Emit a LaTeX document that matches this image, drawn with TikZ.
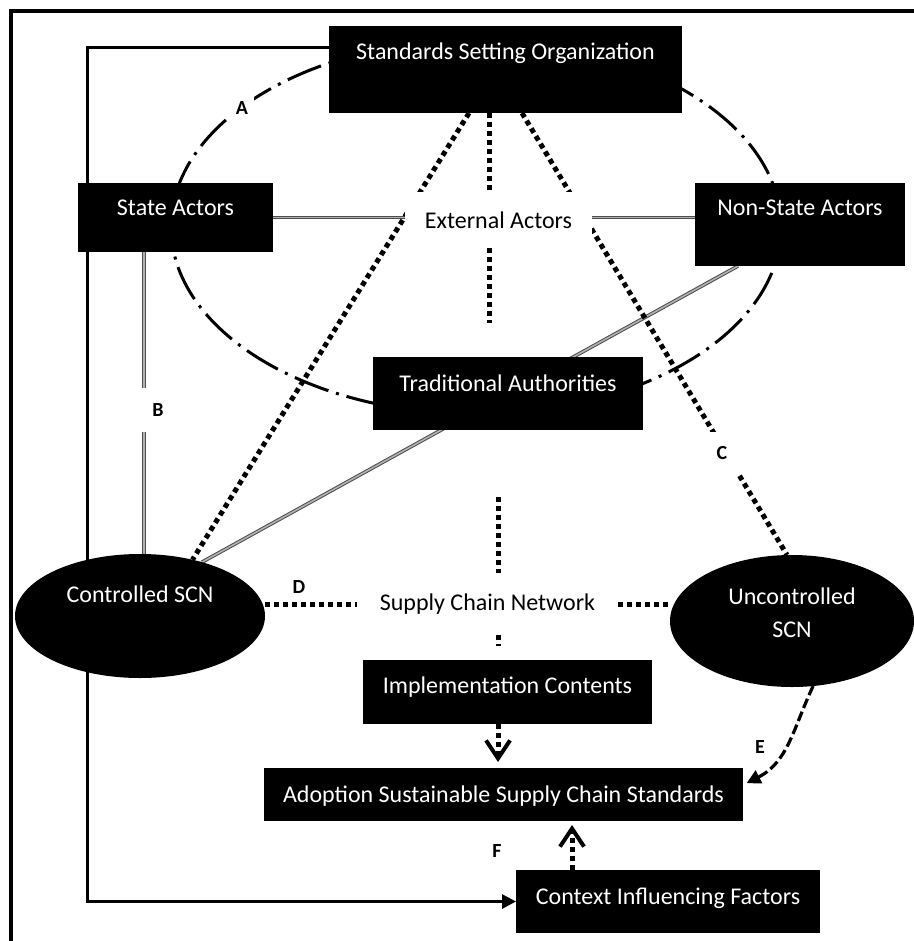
\documentclass[tikz,border=0pt]{standalone}
\usepackage{fontspec}
\setmainfont{Carlito}
\usetikzlibrary{arrows.meta,shapes.geometric,backgrounds}

\begin{document}
\begin{tikzpicture}[x=0.5pt,y=-0.5pt,font=\fontsize{12}{14.5}\selectfont,
	box/.style={fill=black,text=white,inner sep=0pt,outer sep=0pt,anchor=north west},
	oval/.style={ellipse,fill=black,text=white,inner sep=0pt,outer sep=0pt},
	gap/.style={fill=white,inner sep=0pt,outer sep=0pt},
	lbl/.style={fill=white,font=\bfseries,inner sep=3pt},
	dotline/.style={line width=2.5pt,dash pattern=on 2.5pt off 2pt},
	dbl/.style={draw=black!70,double=black!30,double distance=0.8pt,line width=0.5pt},
	dashdot/.style={line width=1.5pt,dash pattern=on 18pt off 4pt on 1.5pt off 4pt},
	dashline/.style={line width=1.6pt,dash pattern=on 5pt off 2pt},
	barb/.style={-{Straight Barb[length=9pt,width=12pt,line width=2pt]}}]
	\useasboundingbox (0,0) rectangle (914,941);

	\node [box,minimum width=176.5pt,text height=17pt,text depth=26.5pt] at (329,26) (sso) {Standards Setting Organization};
	\node [box,minimum width=97.5pt,text height=16pt,text depth=18.5pt] at (78,183) (state) {State Actors};
	\node [box,minimum width=105pt,text height=16pt,text depth=25.5pt] at (695,183) (nonstate) {Non-State Actors};
	\node [box,minimum width=135pt,text height=17pt,text depth=19.5pt] at (373,357) (trad) {Traditional Authorities};
	\node [box,minimum width=144.5pt,text height=16.5pt,text depth=15.5pt] at (363,660) (impl) {Implementation Contents};
	\node [box,minimum width=239.5pt,text height=17pt,text depth=9.5pt] at (264,768) (adopt) {Adoption Sustainable Supply Chain Standards};
	\node [box,minimum width=152pt,text height=17pt,text depth=14.5pt] at (516,870) (context) {Context Influencing Factors};

	\node [oval,minimum width=125pt,minimum height=62pt,text height=7.5pt,text depth=21.5pt] at (140,616) (ctrl) {Controlled SCN};
	\node [oval,minimum width=122pt,minimum height=66pt,align=center,text depth=8pt] at (792,621) (unctrl) {Uncontrolled\\[2pt]SCN};

	\node [gap,minimum width=93.5pt,minimum height=28pt] at (498.5,220) (ext) {External Actors};
	\node [gap,minimum width=130.5pt,minimum height=31pt] at (487.5,604) (scn) {Supply Chain Network};

	\node [lbl] at (242,108) (la) {A};
	\node [lbl,inner xsep=7pt,inner ysep=8pt] at (158,410) (lb) {B};
	\node [lbl,inner sep=7pt] at (722,453) (lc) {C};
	\node [font=\bfseries] at (299,587) (ld) {D};
	\node [font=\bfseries] at (760,747) (le) {E};
	\node [font=\bfseries] at (497,851) (lf) {F};

	\coordinate (corner) at (87,48);
	\coordinate (midup) at (489,0);
	\coordinate (midlow) at (498,0);
	\coordinate (ctxup) at (572,0);

	\begin{scope}[on background layer]
	\draw [line width=2pt] (11,941) -- (11,11) -- (914,11);
	\draw [line width=1.5pt,-{Triangle[length=7pt,width=7pt]}] ([yshift=10.75pt]sso.west) -- (corner) |- (context.west);
	\draw [dashdot] (476,227) ellipse [x radius=152.5pt,y radius=93.5pt];

	\draw [dbl] (state.east) -- (state.east -| ext.west);
	\draw [dbl] (state.east -| ext.east) -- (state.east -| nonstate.west);
	\draw [dbl] ([xshift=33pt]state.south west) coordinate (bline) -- (bline |- ctrl.north);
	\draw [dbl] ([xshift=21.5pt]nonstate.south west) -- (ctrl.41);

	\draw [dotline] ([xshift=-18.25pt]sso.south) -- (ctrl.47);
	\draw [dotline] ([xshift=8.25pt]sso.south) -- ([xshift=-2.5pt]unctrl.north);
	\draw [dotline] (sso.south -| midup) -- (ext.north -| midup);
	\draw [dotline,shorten >=17pt] (ext.south -| midup) -- (trad.north -| midup);
	\draw [dotline,shorten <=33.5pt] (trad.south -| midlow) -- (scn.north -| midlow);
	\draw [dotline,shorten >=7pt] (scn.south -| midlow) -- (impl.north -| midlow);
	\draw [dotline] (scn.west -| ctrl.east) -- (scn.west);
	\draw [dotline] (scn.east) -- (scn.east -| unctrl.west);

	\draw [dotline,barb,shorten >=3pt] (impl.south -| midlow) -- (adopt.north -| midlow);
	\draw [dotline,barb,shorten >=2pt] (context.north -| ctxup) -- (adopt.south -| ctxup);
	\draw [dashline,-{Triangle[length=7pt,width=7pt]},shorten >=2pt] (unctrl.-72) .. controls (793,729) and (788,762) .. ([yshift=4.75pt]adopt.east);
	\end{scope}
\end{tikzpicture}
\end{document}
